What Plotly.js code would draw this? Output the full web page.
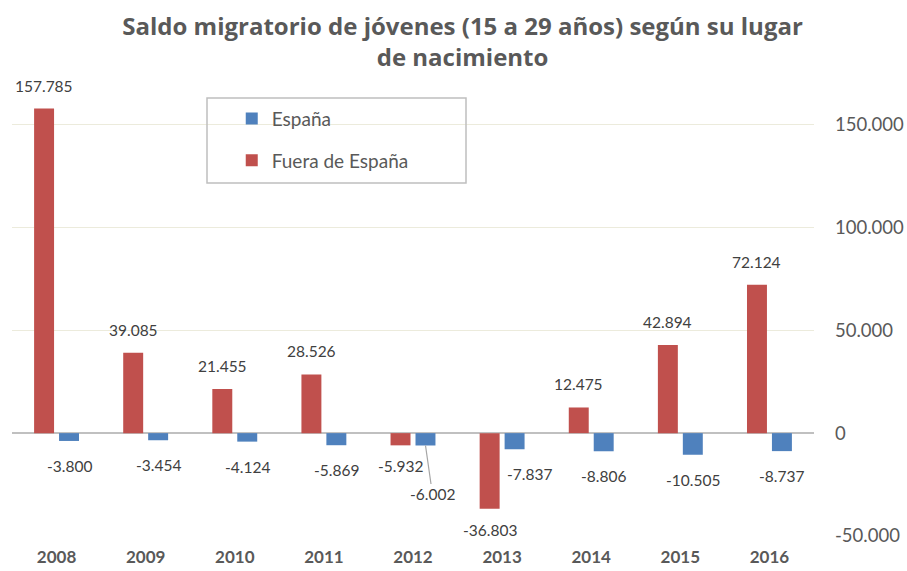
<!DOCTYPE html>
<html>
<head>
<meta charset="utf-8">
<script src="https://cdn.plot.ly/plotly-3.0.1.min.js"></script>
<style>html,body{margin:0;padding:0;background:#fff;}#chart{width:907px;height:571px;}</style>
</head>
<body>
<div id="chart"></div>
<script>
const years = ['2008','2009','2010','2011','2012','2013','2014','2015','2016'];
const fuera = [157785, 39085, 21455, 28526, -5932, -36803, 12475, 42894, 72124];
const espana = [-3800, -3454, -4124, -5869, -6002, -7837, -8806, -10505, -8737];
const yTicks = [-50000, 0, 50000, 100000, 150000];

const RED = '#C0504D', BLUE = '#4F81BD';
const FONT = 'Lato, "Open Sans", sans-serif';
const TFONT = '"Open Sans", Lato, sans-serif';

function fmt(v){
  const s = Math.abs(v).toString().replace(/\B(?=(\d{3})+(?!\d))/g, '.');
  return (v < 0 ? '-' : '') + s;
}

const traces = [
  {type:'bar', name:'Fuera de España', x:years, y:fuera, marker:{color:RED}, legendgroup:'f', legendrank:2, hoverinfo:'none'},
  {type:'bar', name:'España', x:years, y:espana, marker:{color:BLUE}, legendgroup:'e', legendrank:1, hoverinfo:'none'}
];

const slot = 12.5;
const annotations = [];
const lblFont = {family:FONT, size:15.5, color:'#404040'};
years.forEach((yr, i) => {
  const vf = fuera[i];
  annotations.push({x:i, y:vf, xref:'x', yref:'y', text:fmt(vf), showarrow:false,
    xshift:-slot, yshift: vf >= 0 ? 23 : -21, font:lblFont});
  const ve = espana[i];
  if (yr === '2012') {
    annotations.push({x:i, y:ve, xref:'x', yref:'y', text:fmt(ve), showarrow:true,
      arrowhead:0, arrowwidth:1.2, arrowcolor:'#a6a6a6', standoff:0,
      ax:7, ay:49, xshift:slot, font:lblFont});
  } else {
    // nudge right when the neighbouring red bar reaches deeper than this label
    const nudge = vf < ve * 2 ? 15 : 0;
    annotations.push({x:i, y:ve, xref:'x', yref:'y', text:fmt(ve), showarrow:false,
      xshift:slot + nudge, yshift: ve >= 0 ? 25 : -25, font:lblFont});
  }
});

const PT = 104, PB = 536, PH = PB - PT;
const layout = {
  width:907, height:571,
  margin:{l:12, r:93, t:PT, b:571-PB},
  paper_bgcolor:'#ffffff', plot_bgcolor:'#ffffff',
  separators:',.',
  title:{text:'<b>Saldo migratorio de jóvenes (15 a 29 años) según su lugar<br>de nacimiento</b>',
    x:0.51, xanchor:'center', y:1 - 35/571, yanchor:'middle', xref:'container', yref:'container',
    font:{family:TFONT, size:24, color:'#595959'}},
  barmode:'group', bargap:0.44, bargroupgap:0.2,
  showlegend:true,
  legend:{traceorder:'grouped', tracegroupgap:14, x:0.274, xanchor:'left', y:1.01, yanchor:'top',
    bgcolor:'rgba(0,0,0,0)', borderwidth:0, font:{family:FONT, size:19, color:'#595959'}},
  xaxis:{type:'category', range:[-0.5, 8.5], showgrid:false, zeroline:false, showline:false, ticks:'',
    ticklabelstandoff:9, tickfont:{family:FONT, size:17, color:'#595959', weight:'bold'}, fixedrange:true},
  yaxis:{side:'right', range:[-50000,160000], tickvals:yTicks, ticktext:yTicks.map(fmt),
    showgrid:true, gridcolor:'#ecebdc', gridwidth:1.2,
    zeroline:true, zerolinecolor:'#c0c0c0', zerolinewidth:1.5, showline:false, ticks:'',
    ticklabelstandoff:20, tickfont:{family:FONT, size:18.5, color:'#595959'}, fixedrange:true},
  shapes:[{type:'rect', xref:'paper', yref:'paper', x0:(207-12)/802, x1:(466-12)/802,
    y0:(PB-183)/PH, y1:(PB-98)/PH, line:{color:'#bfbfbf', width:1.5}, fillcolor:'rgba(0,0,0,0)'}],
  annotations:annotations
};

Plotly.newPlot('chart', traces, layout, {displayModeBar:false, staticPlot:true});
</script>
</body>
</html>
